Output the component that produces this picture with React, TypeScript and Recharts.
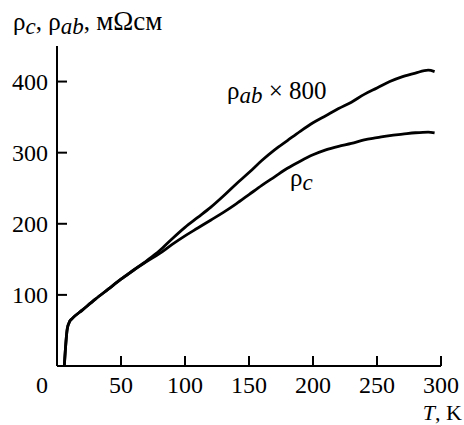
import { LineChart, Line, XAxis, YAxis } from "recharts";

const temps = [5.7, 8, 10, 12, 20, 30, 40, 50, 60, 70, 80, 90, 100, 110, 120, 130, 140, 150, 160, 170, 180, 190, 200, 210, 220, 230, 240, 250, 260, 270, 280, 290, 295];
const rhoC = [0, 52, 63, 67, 79, 94, 108, 122, 135, 147, 158, 171, 183, 194, 205, 216, 228, 241, 254, 266, 278, 288, 297, 304, 309, 313, 318, 321, 324, 326, 328, 329, 328];
const rhoAb = [0, 52, 63, 67, 79, 94, 108, 122, 135, 148, 162, 179, 195, 209, 223, 239, 256, 272, 289, 304, 317, 330, 342, 352, 362, 371, 382, 391, 400, 407, 412, 416, 414];

const xTicks = [0, 50, 100, 150, 200, 250, 300];
const yTicks = [100, 200, 300, 400];

const data = temps.map((t, i) => ({ t, c: rhoC[i], ab: rhoAb[i] }));

const FONT = "'Liberation Serif', 'Times New Roman', serif";
const txt = { fontFamily: FONT };

function XTick({ x, y, payload }: any) {
  const v = payload.value;
  return (
    <g>
      {v !== 0 && <line x1={x} y1={y} x2={x} y2={y - 10} stroke="#000" strokeWidth={2} />}
      <text x={v === 0 ? x - 15 : x} y={y + 27} textAnchor="middle" style={txt} fontSize={24} fill="#000">
        {v}
      </text>
    </g>
  );
}

function YTick({ x, y, payload }: any) {
  return (
    <g>
      <line x1={x} y1={y} x2={x + 10} y2={y} stroke="#000" strokeWidth={2} />
      <text x={x - 9} y={y + 8} textAnchor="end" style={txt} fontSize={24} fill="#000">
        {payload.value}
      </text>
    </g>
  );
}

export default function App() {
  return (
    <div style={{ position: "absolute", left: 0, top: 0, width: 464, height: 425, background: "#fff", fontFamily: FONT }}>
      <LineChart width={464} height={425} data={data} margin={{ top: 46, right: 23, bottom: 58, left: 56 }}>
        <XAxis
          dataKey="t"
          type="number"
          domain={[0, 300]}
          ticks={xTicks}
          height={1}
          tickSize={0}
          tickMargin={0}
          tickLine={false}
          axisLine={{ stroke: "#000", strokeWidth: 2 }}
          tick={<XTick />}
          interval={0}
        />
        <YAxis
          type="number"
          domain={[0, 450]}
          ticks={yTicks}
          width={1}
          tickSize={0}
          tickMargin={0}
          tickLine={false}
          axisLine={{ stroke: "#000", strokeWidth: 2 }}
          tick={<YTick />}
          interval={0}
        />
        <Line dataKey="c" type="monotone" stroke="#000" strokeWidth={2.8} dot={false} isAnimationActive={false} />
        <Line dataKey="ab" type="monotone" stroke="#000" strokeWidth={2.8} dot={false} isAnimationActive={false} />
      </LineChart>
      <svg width={464} height={425} style={{ position: "absolute", left: 0, top: 0, pointerEvents: "none" }}>
        <text x={13} y={30} style={txt} fontSize={25} fill="#000">
          ρ<tspan fontStyle="italic" fontSize={23} dy={4}>c</tspan>
          <tspan dy={-4}>, ρ</tspan>
          <tspan fontStyle="italic" fontSize={23} dy={4}>ab</tspan>
          <tspan dy={-4}>, </tspan>
          <tspan fontSize={27}>мΩсм</tspan>
        </text>
        <text x={227} y={99} style={txt} fontSize={25} fill="#000">
          ρ<tspan fontStyle="italic" fontSize={23} dy={4}>ab</tspan>
          <tspan dy={-4}> × 800</tspan>
        </text>
        <text x={290} y={186} style={txt} fontSize={25} fill="#000">
          ρ<tspan fontStyle="italic" fontSize={23} dy={4}>c</tspan>
        </text>
        <text x={462} y={420} textAnchor="end" style={txt} fontSize={22} fill="#000">
          <tspan fontStyle="italic">T</tspan>, K
        </text>
      </svg>
    </div>
  );
}
